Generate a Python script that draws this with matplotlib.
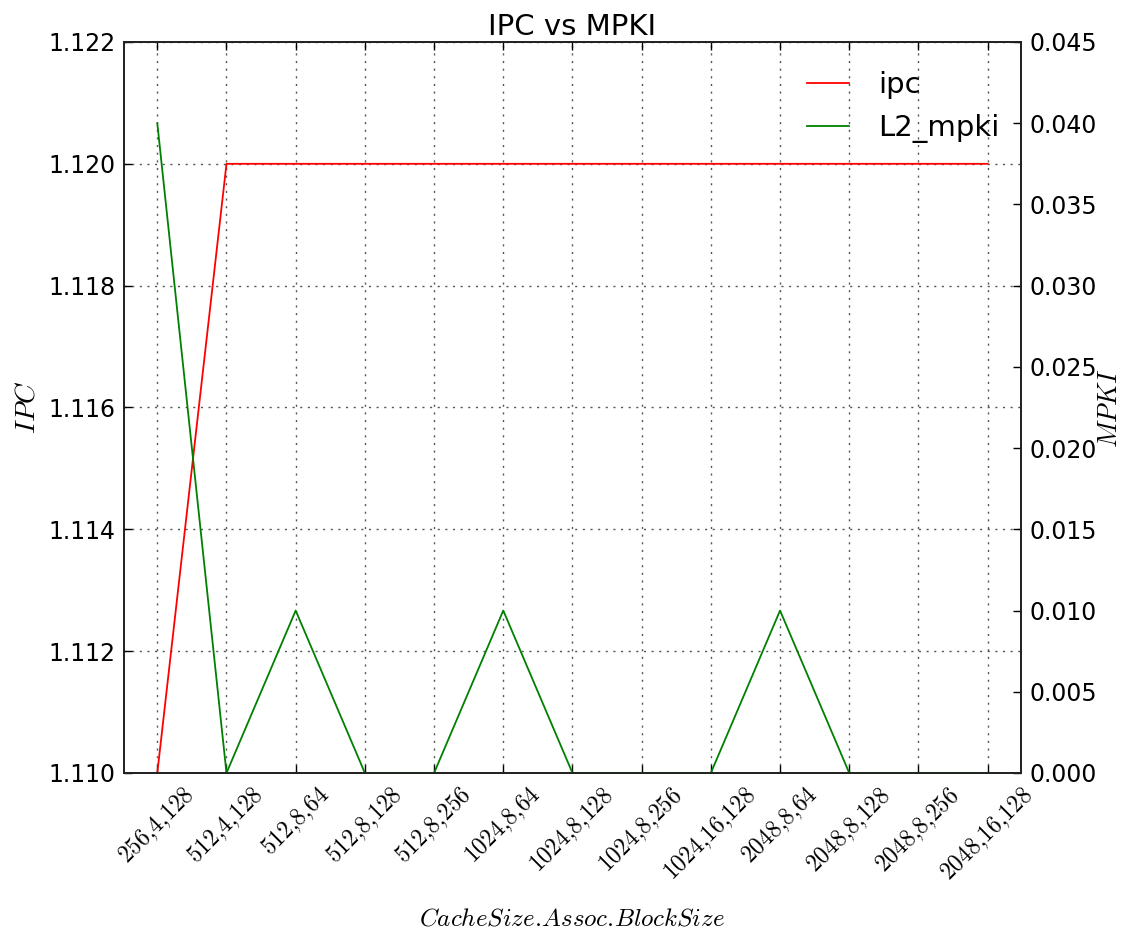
import matplotlib
matplotlib.use("Agg")
import matplotlib.pyplot as plt

configs = ["256,4,128", "512,4,128", "512,8,64", "512,8,128", "512,8,256",
           "1024,8,64", "1024,8,128", "1024,8,256", "1024,16,128",
           "2048,8,64", "2048,8,128", "2048,8,256", "2048,16,128"]
ipc = [1.110, 1.120, 1.120, 1.120, 1.120, 1.120, 1.120, 1.120, 1.120,
       1.120, 1.120, 1.120, 1.120]
l2_mpki = [0.040, 0.0, 0.010, 0.0, 0.0, 0.010, 0.0, 0.0, 0.0,
           0.010, 0.0, 0.0, 0.0]

plt.rcParams["mathtext.fontset"] = "cm"
plt.rcParams["font.family"] = "DejaVu Sans"


def math_label(s):
    # keep mathtext from padding punctuation with extra space
    return "$" + s.replace(",", "{,}").replace(".", r".\!") + "$"


fig = plt.figure(figsize=(11.28, 9.33), dpi=100)
ax = fig.add_axes([0.110, 0.1715, 0.795, 0.7835])
ax2 = ax.twinx()

x = list(range(len(configs)))
l1, = ax.plot(x, ipc, color="#ff0000", lw=1.3, label="ipc")
l2, = ax2.plot(x, l2_mpki, color="#008000", lw=1.3, label="L2_mpki")

ax.set_xlim(-0.48, len(configs) - 1 + 0.48)
ax.set_ylim(1.110, 1.122)
ax.set_yticks([1.110, 1.112, 1.114, 1.116, 1.118, 1.120, 1.122])
ax.set_yticklabels([f"{v:.3f}" for v in ax.get_yticks()])
ax2.set_ylim(0, 0.045)
ax2.set_yticks([0.0, 0.005, 0.010, 0.015, 0.020, 0.025, 0.030, 0.035, 0.040, 0.045])
ax2.set_yticklabels([f"{v:.3f}" for v in ax2.get_yticks()])

ax.set_xticks(x)
ax.set_xticklabels([math_label(c) for c in configs], rotation=45, ha="center",
                   fontsize=19)

for a in (ax, ax2):
    a.tick_params(direction="in", length=6, width=1, labelsize=17, pad=6)
    for s in a.spines.values():
        s.set_linewidth(1.3)
        s.set_color("#222222")
ax.tick_params(axis="x", pad=7)
ax.tick_params(top=True)

ax.grid(True, linestyle=(0, (1.5, 4)), color="#555555", linewidth=1.0)

ax.set_title("IPC vs MPKI", fontsize=21, pad=5)
ax.set_xlabel(math_label("CacheSize.Assoc.BlockSize"), fontsize=18, labelpad=15)
ax.set_ylabel(math_label("IPC"), fontsize=20, labelpad=6)
ax2.set_ylabel(math_label("MPKI"), fontsize=19, labelpad=0)

ax2.legend([l1, l2], ["ipc", "L2_mpki"], loc="upper right",
           bbox_to_anchor=(1.009, 1.0), frameon=False,
           fontsize=21, handlelength=1.45, handletextpad=1.0,
           borderaxespad=0.6, labelspacing=0.5)

fig.savefig("out.png", dpi=100)
